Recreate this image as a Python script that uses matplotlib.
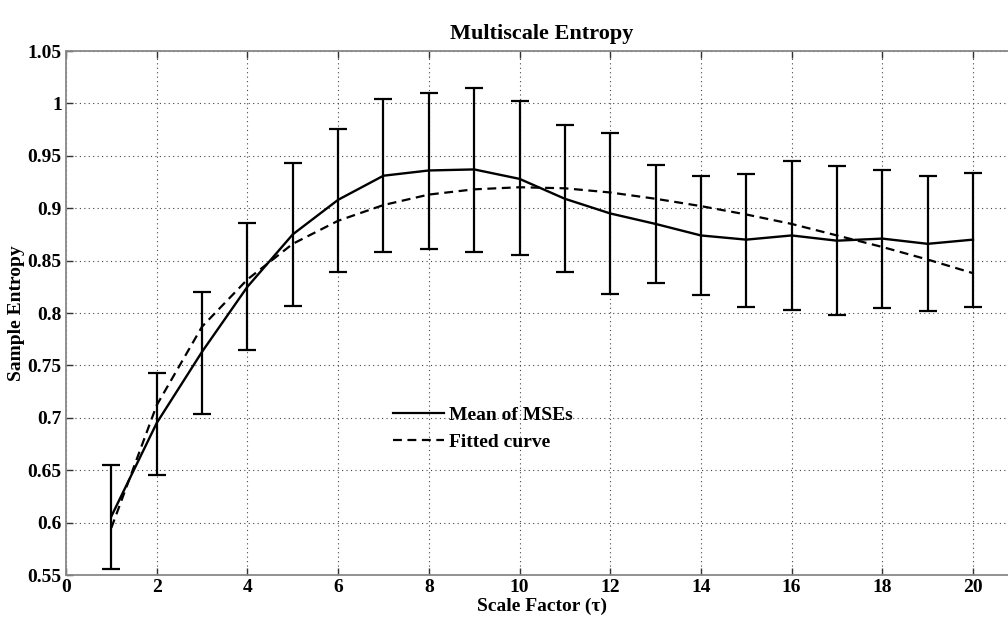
import matplotlib
matplotlib.use("Agg")
import matplotlib.pyplot as plt
from matplotlib.lines import Line2D

# ---- data ----
scale = list(range(1, 21))
mse_mean = [0.606, 0.695, 0.763, 0.825, 0.875, 0.908, 0.931, 0.936, 0.937, 0.928,
            0.909, 0.895, 0.885, 0.874, 0.870, 0.874, 0.869, 0.871, 0.866, 0.870]
mse_upper = [0.655, 0.743, 0.820, 0.886, 0.943, 0.976, 1.004, 1.010, 1.015, 1.002,
             0.979, 0.972, 0.941, 0.931, 0.933, 0.945, 0.940, 0.936, 0.931, 0.934]
mse_lower = [0.556, 0.645, 0.704, 0.765, 0.807, 0.839, 0.858, 0.861, 0.858, 0.855,
             0.839, 0.818, 0.829, 0.817, 0.806, 0.803, 0.798, 0.805, 0.802, 0.806]
fitted = [0.595, 0.712, 0.787, 0.832, 0.866, 0.888, 0.903, 0.913, 0.918, 0.920,
          0.919, 0.915, 0.909, 0.902, 0.894, 0.885, 0.874, 0.863, 0.851, 0.838]
xticks = list(range(0, 21, 2))
yticks = [0.55, 0.6, 0.65, 0.7, 0.75, 0.8, 0.85, 0.9, 0.95, 1.0, 1.05]
ytick_labels = ["0.55", "0.6", "0.65", "0.7", "0.75", "0.8", "0.85", "0.9", "0.95", "1", "1.05"]

plt.rcParams['font.family'] = ['Liberation Serif', 'DejaVu Serif']
plt.rcParams['font.weight'] = 'bold'

fig = plt.figure(figsize=(10.08, 6.23), dpi=100)
W, H = 1008, 623
ax = fig.add_axes([66 / W, (H - 575) / H, 21 * 45.35 / W, 524 / H])

yerr = [[m - lo for m, lo in zip(mse_mean, mse_lower)],
        [hi - m for m, hi in zip(mse_mean, mse_upper)]]
ax.errorbar(scale, mse_mean, yerr=yerr, fmt='none', ecolor='black',
            elinewidth=1.6, capsize=6.5, capthick=1.6, zorder=3)
ax.plot(scale, mse_mean, color='black', lw=1.7, zorder=4)
ax.plot(scale, fitted, color='black', lw=1.6, ls=(0, (4, 2.5)), zorder=4)

ax.set_xlim(0, 21)
ax.set_ylim(0.55, 1.05)
ax.set_xticks(xticks)
ax.set_xticklabels([str(t) for t in xticks])
ax.set_yticks(yticks)
ax.set_yticklabels(ytick_labels)

ax.grid(True, color='#444444', linestyle=(0, (1, 3)), linewidth=0.8)
ax.set_axisbelow(True)
for s in ax.spines.values():
    s.set_color('#888888')
    s.set_linewidth(1.3)
ax.tick_params(direction='in', length=5, width=1, color='#333333',
               top=True, right=True, labelsize=14, pad=3)
for lab in ax.get_xticklabels() + ax.get_yticklabels():
    lab.set_fontweight('bold')

ax.set_title('Multiscale Entropy', fontsize=16, fontweight='bold', pad=9)
ax.set_xlabel('Scale Factor (\u03c4)', fontsize=14, fontweight='bold', labelpad=1)
ax.set_ylabel('Sample Entropy', fontsize=14, fontweight='bold', labelpad=2)

handles = [Line2D([], [], color='black', lw=1.6),
           Line2D([], [], color='black', lw=1.6, ls=(0, (4, 2.5)))]
leg = ax.legend(handles, ['Mean of MSEs', 'Fitted curve'], loc='upper left',
                bbox_to_anchor=((393 - 66) / (21 * 45.35), 1 - (406 - 51) / 524),
                frameon=False, fontsize=14, handlelength=2.6, handletextpad=0.3,
                labelspacing=0.5, borderaxespad=0, borderpad=0)
for t in leg.get_texts():
    t.set_fontweight('bold')

fig.savefig('out.png', dpi=100)
